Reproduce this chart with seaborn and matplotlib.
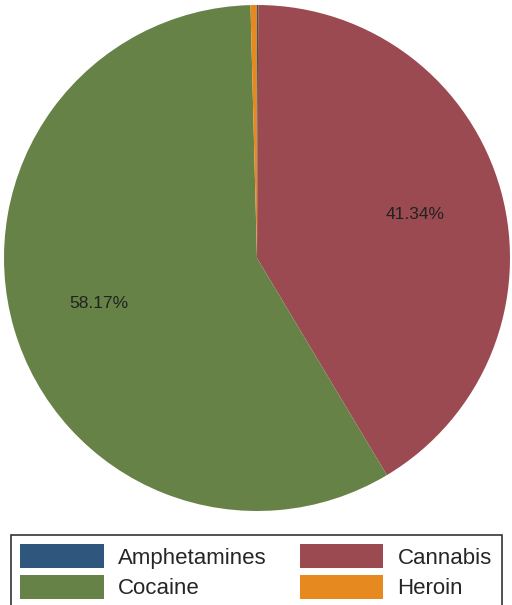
import matplotlib
matplotlib.use("Agg")
import matplotlib.pyplot as plt
from matplotlib.patches import Rectangle
import seaborn as sns

drugs = ["Amphetamines", "Cannabis", "Cocaine", "Heroin"]
shares = [0.08, 41.34, 58.17, 0.41]
colors = ["#2f577d", "#9a4a50", "#668246", "#e6891e"]

sns.set_theme(style="white")
plt.rcParams["font.family"] = ["Arial", "Liberation Sans", "DejaVu Sans"]

W, H = 512, 605
fig = plt.figure(figsize=(W / 100, H / 100), dpi=100)
ax = fig.add_axes([4 / W, 1 - 511 / H, 506 / W, 506 / H])


def fmt(p):
    return f"{p:.2f}%" if p > 5 else ""


wedges, texts, autotexts = ax.pie(
    shares, colors=colors, startangle=90, counterclock=False,
    autopct=fmt, pctdistance=0.65,
    wedgeprops=dict(linewidth=0), textprops=dict(fontsize=12.5, color="#222222"),
)
ax.set_aspect("equal")
ax.set_xlim(-1, 1)
ax.set_ylim(-1, 1)
ax.axis("off")

# legend frame runs off the bottom of the picture
fig.patches.append(Rectangle((11 / W, 1 - 640 / H), 491 / W, 105 / H,
                             transform=fig.transFigure, fill=False,
                             edgecolor="#333333", linewidth=1.2))
# row-major order like the reference: fill columns accordingly
order = [0, 2, 1, 3]
fig.legend([wedges[i] for i in order], [drugs[i] for i in order],
           ncol=2, loc="upper left",
           bbox_to_anchor=(17 / W, 1 - 547 / H, 478 / W, 0.01),
           mode="expand", frameon=False, fontsize=16,
           handlelength=3.75, handleheight=1.25, handletextpad=0.63,
           labelspacing=0.3, borderpad=0.15, borderaxespad=0)

fig.savefig("out.png", dpi=100)
